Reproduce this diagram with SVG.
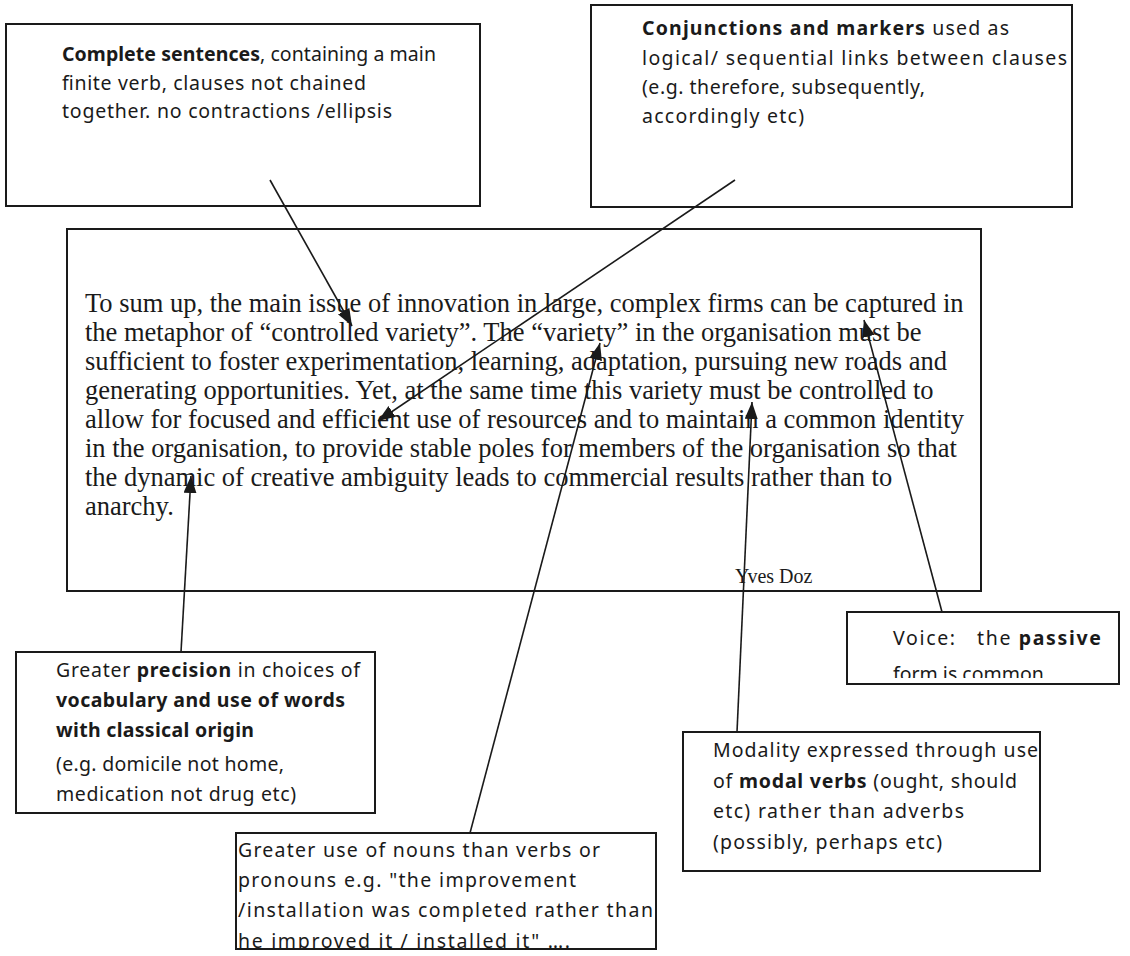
<svg xmlns="http://www.w3.org/2000/svg" width="1130" height="956" viewBox="0 0 1130 956">
<style>
.box{fill:#fff;stroke:#1a1a1a;stroke-width:2}
.c{font-family:"Noto Sans","DejaVu Sans",sans-serif;font-size:19.5px;fill:#1a1a1a}
.b{font-weight:bold}
.m{font-family:"Liberation Serif","Times New Roman",serif;font-size:26.5px;fill:#1a1a1a}
.conn{stroke:#1a1a1a;stroke-width:1.6;fill:none;marker-end:url(#ah)}
</style>
<defs>
<marker id="ah" markerUnits="userSpaceOnUse" markerWidth="18" markerHeight="14" refX="17" refY="6.5" orient="auto">
<path d="M0,0 L17,6.5 L0,13 z" fill="#1a1a1a"/>
</marker>
<clipPath id="clipVoice"><rect x="847" y="612" width="281" height="66"/></clipPath>
<clipPath id="clipNouns"><rect x="236" y="833" width="420" height="116"/></clipPath>
</defs>
<rect width="1130" height="956" fill="#fff"/>

<g id="box-sentences">
<rect class="box" x="6" y="24" width="474" height="182"/>
<text class="c" x="62" y="61" textLength="374"><tspan class="b">Complete sentences</tspan>, containing a main</text>
<text class="c" x="62" y="90" textLength="304">finite verb, clauses not chained</text>
<text class="c" x="62" y="118" textLength="330">together. no contractions /ellipsis</text>
</g>

<g id="box-conjunctions">
<rect class="box" x="591" y="5" width="481" height="202"/>
<text class="c" x="642" y="35" textLength="367"><tspan class="b">Conjunctions and markers</tspan> used as</text>
<text class="c" x="642" y="65" textLength="425">logical/ sequential links between clauses</text>
<text class="c" x="642" y="94" textLength="283">(e.g. therefore, subsequently,</text>
<text class="c" x="642" y="123" textLength="162">accordingly etc)</text>
</g>

<g id="main-text">
<rect class="box" x="67" y="229" width="914" height="362"/>
<text class="m" x="85" y="312">To sum up, the main issue of innovation in large, complex firms can be captured in</text>
<text class="m" x="85" y="341">the metaphor of “controlled variety”. The “variety” in the organisation must be</text>
<text class="m" x="85" y="370">sufficient to foster experimentation, learning, adaptation, pursuing new roads and</text>
<text class="m" x="85" y="399">generating opportunities. Yet, at the same time this variety must be controlled to</text>
<text class="m" x="85" y="428">allow for focused and efficient use of resources and to maintain a common identity</text>
<text class="m" x="85" y="457">in the organisation, to provide stable poles for members of the organisation so that</text>
<text class="m" x="85" y="486">the dynamic of creative ambiguity leads to commercial results rather than to</text>
<text class="m" x="85" y="515">anarchy.</text>
<text class="m" x="735" y="583" style="font-size:20px">Yves Doz</text>
</g>

<g id="box-precision">
<rect class="box" x="16" y="652" width="359" height="161"/>
<text class="c" x="56" y="677" textLength="304">Greater <tspan class="b">precision</tspan> in choices of</text>
<text class="c b" x="56" y="707" textLength="289">vocabulary and use of words</text>
<text class="c b" x="56" y="737" textLength="198">with classical origin</text>
<text class="c" x="56" y="771" textLength="228">(e.g. domicile not home,</text>
<text class="c" x="56" y="801" textLength="240">medication not drug etc)</text>
</g>

<g id="box-nouns">
<rect class="box" x="236" y="833" width="420" height="116"/>
<g clip-path="url(#clipNouns)">
<text class="c" x="238" y="857" textLength="362">Greater use of nouns than verbs or</text>
<text class="c" x="238" y="887" textLength="338">pronouns e.g. "the improvement</text>
<text class="c" x="238" y="917" textLength="415">/installation was completed rather than</text>
<text class="c" x="238" y="948" textLength="332">he improved it / installed it" ….</text>
</g>
</g>

<g id="box-modality">
<rect class="box" x="683" y="732" width="357" height="139"/>
<text class="c" x="713" y="757" textLength="325">Modality expressed through use</text>
<text class="c" x="713" y="788" textLength="304">of <tspan class="b">modal verbs</tspan> (ought, should</text>
<text class="c" x="713" y="818" textLength="251">etc) rather than adverbs</text>
<text class="c" x="713" y="849" textLength="229">(possibly, perhaps etc)</text>
</g>

<g id="box-voice">
<rect class="box" x="847" y="612" width="272" height="72"/>
<g clip-path="url(#clipVoice)">
<text class="c" x="893" y="645" textLength="208" xml:space="preserve">Voice:   the <tspan class="b">passive</tspan></text>
<text class="c" x="893" y="681">form is common</text>
</g>
</g>

<g id="connectors">
<line class="conn" x1="270" y1="180" x2="352" y2="326"/>
<line class="conn" x1="735" y1="180" x2="378" y2="421"/>
<line class="conn" x1="181" y1="652" x2="191" y2="476"/>
<line class="conn" x1="470" y1="833" x2="600" y2="343"/>
<line class="conn" x1="737" y1="732" x2="752" y2="402"/>
<line class="conn" x1="942" y1="612" x2="864" y2="320"/>
</g>
</svg>
